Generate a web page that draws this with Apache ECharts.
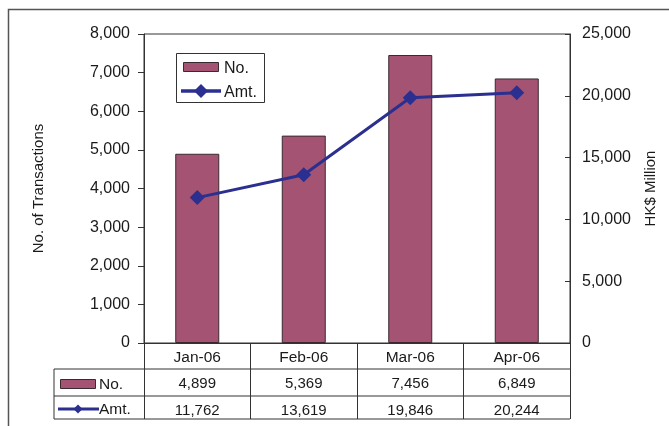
<!DOCTYPE html>
<html>
<head>
<meta charset="utf-8">
<style>
  html, body { margin: 0; padding: 0; background: #fff; }
  #chart { width: 669px; height: 426px; }
</style>
<script src="https://cdn.jsdelivr.net/npm/echarts@6/dist/echarts.min.js"></script>
</head>
<body>
<div id="chart"></div>
<script>
// Monthly transactions: count (bars, left axis) and amount (line, right axis)
const categories = ['Jan-06', 'Feb-06', 'Mar-06', 'Apr-06'];
const noValues = [4899, 5369, 7456, 6849];
const amtValues = [11762, 13619, 19846, 20244];
const seriesNames = ['No.', 'Amt.'];
const leftTicks = { min: 0, max: 8000, interval: 1000 };
const rightTicks = { min: 0, max: 25000, interval: 5000 };

const FONT = '"Liberation Sans", Arial, sans-serif';
const BAR_COLOR = '#A45472';
const BAR_EDGE = '#3a2a30';
const LINE_COLOR = '#2B2F8F';
const INK = '#1a1a1a';
const W = 669, H = 426;
const G = { left: 144, right: 99, top: 34, bottom: 83 };
const plotR = W - G.right, plotB = H - G.bottom;
const row1 = plotB + 26, row2 = row1 + 27, row3 = row2 + 23;
const tableL = 54;

const fmt = v => Number(v).toLocaleString('en-US');
const chart = echarts.init(document.getElementById('chart'), null, { renderer: 'canvas' });

function tableAxis(values, offset) {
  return {
    type: 'category', data: categories, position: 'bottom', offset: offset,
    axisLine: { show: false }, axisTick: { show: false },
    axisLabel: { margin: 7, color: INK, fontFamily: FONT, fontSize: 15,
      formatter: (v, i) => fmt(values[i]) }
  };
}

const rule = (x1, y1, x2, y2, w, c) => ({
  type: 'line', silent: true,
  shape: { x1, y1, x2, y2 },
  style: { stroke: c || '#333', lineWidth: w || 1 }
});
const diamond = (cx, cy, r) => ({
  type: 'polygon', silent: true,
  shape: { points: [[cx, cy - r], [cx + r, cy], [cx, cy + r], [cx - r, cy]] },
  style: { fill: LINE_COLOR }
});
const label = (x, y, text, size) => ({
  type: 'text', silent: true,
  style: { x, y, text, fill: INK, font: size + 'px ' + FONT, verticalAlign: 'middle' }
});

chart.setOption({
  animation: false,
  textStyle: { fontFamily: FONT },
  grid: Object.assign({ show: true, borderColor: '#333', borderWidth: 1,
    backgroundColor: 'transparent', containLabel: false, outerBoundsMode: 'none' }, G),
  xAxis: [
    {
      type: 'category', data: categories, position: 'bottom',
      axisLine: { show: true, lineStyle: { color: '#333', width: 1 } },
      axisTick: { show: true, length: row3 - plotB, lineStyle: { color: '#333' } },
      axisLabel: { margin: 7, color: INK, fontFamily: FONT, fontSize: 15.5 }
    },
    tableAxis(noValues, row1 - plotB),
    tableAxis(amtValues, row2 - plotB)
  ],
  yAxis: [
    {
      type: 'value', position: 'left', min: leftTicks.min, max: leftTicks.max, interval: leftTicks.interval,
      name: 'No. of Transactions', nameLocation: 'middle', nameRotate: 90, nameGap: 98,
      nameTextStyle: { color: INK, fontFamily: FONT, fontSize: 15 },
      axisLine: { show: true, lineStyle: { color: '#333' } },
      axisTick: { show: true, inside: false, length: 6, lineStyle: { color: '#333' } },
      axisLabel: { margin: 14, color: INK, fontFamily: FONT, fontSize: 16, formatter: fmt },
      splitLine: { show: false }
    },
    {
      type: 'value', position: 'right', min: rightTicks.min, max: rightTicks.max, interval: rightTicks.interval,
      name: 'HK$ Million', nameLocation: 'middle', nameRotate: 90, nameGap: 73,
      nameTextStyle: { color: INK, fontFamily: FONT, fontSize: 15 },
      axisLine: { show: true, lineStyle: { color: '#333' } },
      axisTick: { show: true, inside: true, length: 5, lineStyle: { color: '#333' } },
      axisLabel: { margin: 12, color: INK, fontFamily: FONT, fontSize: 16, formatter: fmt },
      splitLine: { show: false }
    }
  ],
  series: [
    {
      name: seriesNames[0], type: 'bar', xAxisIndex: 0, yAxisIndex: 0, data: noValues,
      barWidth: 44,
      itemStyle: { color: BAR_COLOR, borderColor: BAR_EDGE, borderWidth: 1 }
    },
    {
      name: seriesNames[1], type: 'line', xAxisIndex: 0, yAxisIndex: 1, data: amtValues,
      symbol: 'diamond', symbolSize: 15, showSymbol: true,
      lineStyle: { color: LINE_COLOR, width: 3 },
      itemStyle: { color: LINE_COLOR }
    }
  ],
  graphic: [
    // outer frame
    { type: 'polyline', silent: true, shape: { points: [[8.5, H], [8.5, 9.5], [W, 9.5]] },
      style: { stroke: '#555', lineWidth: 1.5, fill: null } },

    // legend box inside the plot
    { type: 'rect', silent: true, shape: { x: 176.5, y: 53.5, width: 88, height: 49 },
      style: { fill: '#fff', stroke: '#333', lineWidth: 1 } },
    { type: 'rect', silent: true, shape: { x: 183.5, y: 62.5, width: 35, height: 9 },
      style: { fill: BAR_COLOR, stroke: BAR_EDGE, lineWidth: 1 } },
    label(224, 68.5, seriesNames[0], 16),
    rule(181, 91, 221, 91, 3.5, LINE_COLOR),
    diamond(201, 91, 7),
    label(224, 92.5, seriesNames[1], 16),

    // data table rules
    rule(tableL, row1, plotR, row1),
    rule(tableL, row2, plotR, row2),
    rule(tableL, row3, plotR, row3),
    rule(tableL, row1, tableL, row3),

    // series keys in the table
    { type: 'rect', silent: true, shape: { x: 60.5, y: 379.5, width: 35, height: 9 },
      style: { fill: BAR_COLOR, stroke: BAR_EDGE, lineWidth: 1 } },
    label(99, (row1 + row2) / 2 + 2, seriesNames[0], 15.5),
    rule(58, 409, 99, 409, 3, LINE_COLOR),
    diamond(78, 409, 4.5),
    label(99, (row2 + row3) / 2 + 2.5, seriesNames[1], 15.5)
  ]
});
</script>
</body>
</html>
